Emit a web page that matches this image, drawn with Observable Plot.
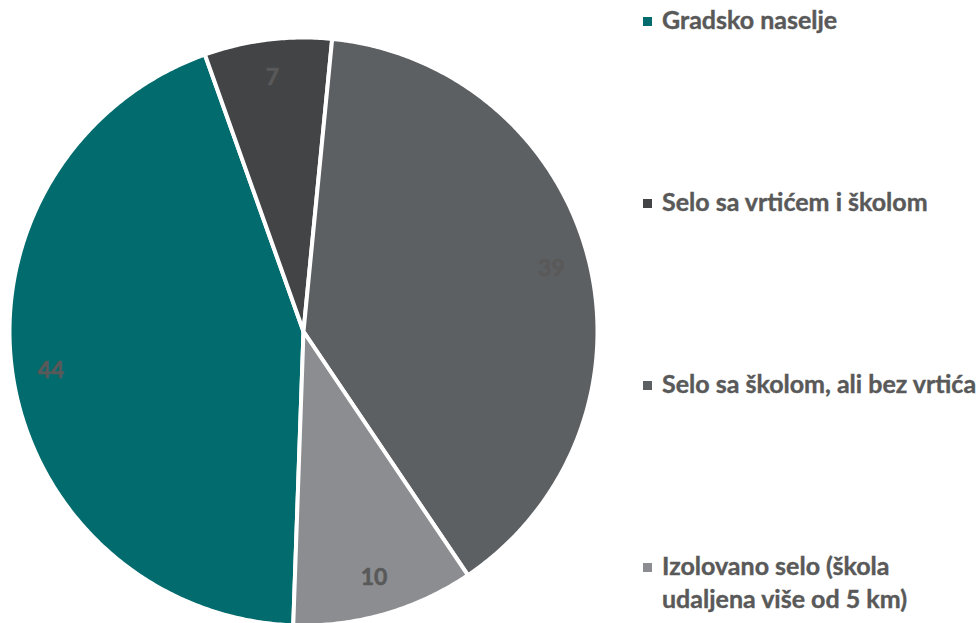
<!DOCTYPE html>
<html>
<head>
<meta charset="utf-8">
<script src="https://cdn.jsdelivr.net/npm/d3@7"></script>
<script src="https://cdn.jsdelivr.net/npm/@observablehq/plot@0.6"></script>
<style>
  html, body { margin: 0; padding: 0; background: #fff; overflow: hidden; }
  #wrap { position: relative; width: 978px; height: 623px; }
  #chart { position: absolute; left: 0; top: 0; }
  .item { position: absolute; left: 662px; font-family: Lato, "Open Sans", sans-serif; font-weight: 700;
          font-size: 25px; line-height: 33px; color: #595959; white-space: nowrap;
          -webkit-text-stroke: 0.4px #595959; }
  .sw { position: absolute; left: 643px; width: 9px; height: 9px; }
</style>
</head>
<body>
<div id="wrap"><div id="chart"></div></div>
<script>
const categories = ["Gradsko naselje", "Selo sa vrtićem i školom", "Selo sa školom, ali bez vrtića", "Izolovano selo (škola udaljena više od 5 km)"];
const legendLines = [["Gradsko naselje"], ["Selo sa vrtićem i školom"], ["Selo sa školom, ali bez vrtića"], ["Izolovano selo (škola", "udaljena više od 5 km)"]];
const values = [44, 7, 39, 10];
const colors = ["#026b6d", "#434446", "#5d6063", "#8b8d91"];
const startDeg = 182;

const start = startDeg * Math.PI / 180;
const arcs = d3.pie().sort(null).value(d => d).startAngle(start).endAngle(start + 2 * Math.PI)(values);

const poly = [];
const labels = [];
arcs.forEach((a, i) => {
  const cat = categories[i];
  poly.push({cat, x: 0, y: 0});
  const n = Math.max(4, Math.ceil((a.endAngle - a.startAngle) / (Math.PI / 360)));
  for (let k = 0; k <= n; k++) {
    const t = a.startAngle + (a.endAngle - a.startAngle) * k / n;
    poly.push({cat, x: Math.sin(t), y: Math.cos(t)});
  }
  const m = (a.startAngle + a.endAngle) / 2;
  labels.push({cat, value: values[i], x: 0.87 * Math.sin(m), y: 0.87 * Math.cos(m)});
});

const plot = Plot.plot({
  width: 610,
  height: 623,
  margin: 0,
  x: {domain: [-1, 1], range: [9, 597], axis: null},
  y: {domain: [-1, 1], range: [625, 37], axis: null},
  color: {domain: categories, range: colors},
  marks: [
    Plot.line(poly, {x: "x", y: "y", z: "cat", fill: "cat", stroke: "white", strokeWidth: 4,
                     strokeLinejoin: "round", curve: "linear-closed"}),
    Plot.text(labels, {x: "x", y: "y", text: "value", fill: "#595959", stroke: "#595959", strokeWidth: 0.6,
                       fontSize: 23, fontWeight: "bold", fontFamily: "Lato, 'Open Sans', sans-serif"})
  ]
});
document.getElementById("chart").appendChild(plot);

const wrap = document.getElementById("wrap");
const baselines = [29, 211, 393, 575];
legendLines.forEach((lines, i) => {
  const sw = document.createElement("div");
  sw.className = "sw";
  sw.style.top = (baselines[i] - 12) + "px";
  sw.style.background = colors[i];
  wrap.appendChild(sw);
  const it = document.createElement("div");
  it.className = "item";
  it.style.top = (baselines[i] - 26) + "px";
  it.innerHTML = lines.join("<br>");
  wrap.appendChild(it);
});
</script>
</body>
</html>
